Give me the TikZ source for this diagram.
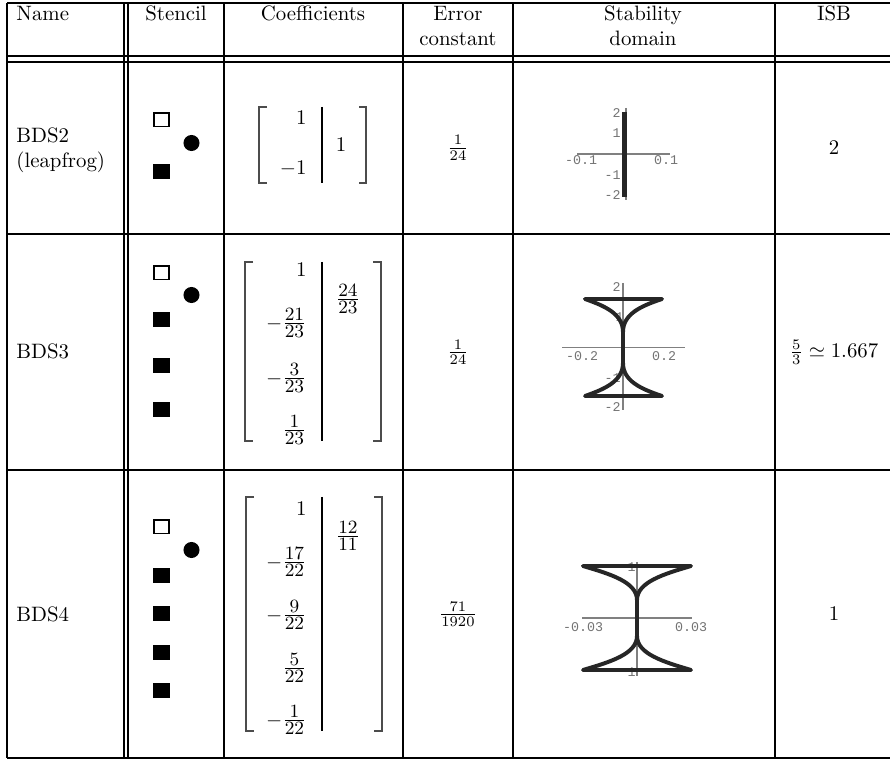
\documentclass[tikz,border=0pt]{standalone}
\usepackage{fontspec}
\newfontfamily\plotfont{Liberation Mono}
\DeclareMathSizes{9.99}{10}{9}{7}
\begin{document}
\begin{tikzpicture}[x=0.48pt,y=-0.48pt,
  rule/.style={line width=0.95pt},
  txt/.style={font=\fontsize{10}{12}\selectfont, inner sep=0pt},
  mtx/.style={font=\fontsize{9.99}{12}\selectfont, inner sep=0pt},
  tk/.style={font=\plotfont\fontsize{6.4}{7}\selectfont, text=black!55, inner sep=0pt},
  ax/.style={line width=0.5pt, draw=black!50},
  dom/.style={line width=1.9pt, line cap=round, line join=round, draw=black!85},
  brk/.style={line width=0.55pt, draw=black!70},
  vbar/.style={line width=0.95pt},
  opensq/.style={draw, line width=0.9pt, minimum width=7.3pt, minimum height=6.3pt, inner sep=0pt},
  fullsq/.style={fill, minimum width=8.2pt, minimum height=7.2pt, inner sep=0pt},
  fdot/.style={circle, fill, minimum size=7.7pt, inner sep=0pt}
]
\useasboundingbox (0,0) rectangle (890,760);
% rules
\foreach \y in {3,56,62,234,470,758} \draw[rule] (7,\y) -- (890,\y);
\foreach \x in {7,124.3,128.3,224,403,513,775} \draw[rule] (\x,3) -- (\x,758);
% header
\node[txt, anchor=base west] (hName) at (16,20.5) {Name};
\node[txt, anchor=base] (hSt) at (176,20.5) {Stencil};
\node[txt, anchor=base] (hCo) at (313,20.5) {Coefficients};
\node[txt, anchor=base] (hEr1) at (458,20.5) {Error};
\node[txt, anchor=base] (hEr2) at (458,45.5) {constant};
\node[txt, anchor=base] (hSd1) at (643,20.5) {Stability};
\node[txt, anchor=base] (hSd2) at (643,45.5) {domain};
\node[txt, anchor=base] (hIsb) at (834,20.5) {ISB};
% names
\node[txt, anchor=base west] (nm1a) at (16,143) {BDS2};
\node[txt, anchor=base west] (nm1b) at (16,168) {(leapfrog)};
\node[txt, anchor=base west] (nm2) at (16,359) {BDS3};
\node[txt, anchor=base west] (nm3) at (16,621) {BDS4};
% stencils
\node[opensq] (s1o) at (161.5,120) {};
\node[fdot] (s1d) at (191.5,143) {};
\node[fullsq] (s1a) at (161.5,172) {};
\node[opensq] (s2o) at (161.5,273) {};
\node[fdot] (s2d) at (191.5,295) {};
\node[fullsq] (s2a) at (161.5,320) {};
\node[fullsq] (s2b) at (161.5,366) {};
\node[fullsq] (s2c) at (161.5,410) {};
\node[opensq] (s3o) at (161.5,527) {};
\node[fdot] (s3d) at (191.5,550) {};
\node[fullsq] (s3a) at (161.5,576) {};
\node[fullsq] (s3b) at (161.5,614) {};
\node[fullsq] (s3c) at (161.5,652) {};
\node[fullsq] (s3e) at (161.5,690) {};
% matrix 1
\draw[brk] (267,107) -- (259,107) -- (259,183) -- (267,183);
\draw[brk] (359,107) -- (366,107) -- (366,183) -- (359,183);
\draw[vbar] (322,107) -- (322,183);
\node[mtx, anchor=east] (m1a) at (307,118) {$1$};
\node[mtx, anchor=east] (m1b) at (307,169) {$-1$};
\node[mtx] (m1r) at (341,145) {$1$};
% matrix 2
\draw[brk] (253,262) -- (245,262) -- (245,441) -- (253,441);
\draw[brk] (373,262) -- (381,262) -- (381,441) -- (373,441);
\draw[vbar] (322,262) -- (322,441);
\node[mtx, anchor=east] (m2a) at (307,270) {$1$};
\node[mtx, anchor=east] (m2b) at (307,323) {$-\frac{21}{23}$};
\node[mtx, anchor=east] (m2c) at (307,378) {$-\frac{3}{23}$};
\node[mtx, anchor=east] (m2d) at (307,430) {$\frac{1}{23}$};
\node[mtx] (m2r) at (348,299) {$\frac{24}{23}$};
% matrix 3
\draw[brk] (254,497) -- (246,497) -- (246,731) -- (254,731);
\draw[brk] (374,497) -- (382,497) -- (382,731) -- (374,731);
\draw[vbar] (322,497) -- (322,731);
\node[mtx, anchor=east] (m3a) at (307,509) {$1$};
\node[mtx, anchor=east] (m3b) at (307,562) {$-\frac{17}{22}$};
\node[mtx, anchor=east] (m3c) at (307,615) {$-\frac{9}{22}$};
\node[mtx, anchor=east] (m3d) at (307,668) {$\frac{5}{22}$};
\node[mtx, anchor=east] (m3e) at (307,720) {$-\frac{1}{22}$};
\node[mtx] (m3r) at (348,536) {$\frac{12}{11}$};
% error constants
\node[txt] (e1) at (458,148) {$\frac{1}{24}$};
\node[txt] (e2) at (458,352) {$\frac{1}{24}$};
\node[txt] (e3) at (458,614) {$\frac{71}{1920}$};
% ISB
\node[txt] (i1) at (834,148) {$2$};
\node[txt] (i2) at (834,352) {$\frac{5}{3}\simeq 1.667$};
\node[txt] (i3) at (834,614) {$1$};
% plot 1
\draw[ax] (577,154) -- (670,154);
\draw[ax] (626,108) -- (626,200);
\node[tk, anchor=east] (p1y1) at (621,113) {2};
\node[tk, anchor=east] (p1y2) at (621,133) {1};
\node[tk, anchor=east] (p1y3) at (621,175) {-1};
\node[tk, anchor=east] (p1y4) at (621,195) {-2};
\node[tk] (p1x1) at (581,160) {-0.1};
\node[tk] (p1x2) at (666,160) {0.1};
\draw[line width=2.4pt, draw=black!85] (624.5,112) -- (624.5,197);
% plot 2
\draw[ax] (562,347.5) -- (685,347.5);
\draw[ax] (623,283) -- (623,410);
\node[tk, anchor=east] (p2y1) at (621,287) {2};
\node[tk, anchor=east] (p2y2) at (624,317) {1};
\node[tk, anchor=east] (p2y3) at (621,378) {-1};
\node[tk, anchor=east] (p2y4) at (621,407) {-2};
\node[tk] (p2x1) at (582,356) {-0.2};
\node[tk] (p2x2) at (664,356) {0.2};
\draw[dom] (585,299) -- (662,299) .. controls (641,306) and (623,314) .. (623,332) -- (623,363) .. controls (623,381) and (641,389) .. (662,396) -- (585,396) .. controls (605,389) and (623,381) .. (623,363);
\draw[dom] (585,299) .. controls (605,306) and (623,314) .. (623,332);
% plot 3
\draw[ax] (582,618) -- (692,618);
\draw[ax] (637,562) -- (637,676);
\node[tk, anchor=east] (p3y1) at (636,567) {1};
\node[tk, anchor=east] (p3y2) at (636,672) {1};
\node[tk] (p3x1) at (583,627) {-0.03};
\node[tk] (p3x2) at (691,627) {0.03};
\draw[dom] (583,566) -- (691,566) .. controls (664,574) and (637,582) .. (637,600) -- (637,636) .. controls (637,654) and (664,662) .. (691,670) -- (583,670) .. controls (610,662) and (637,654) .. (637,636);
\draw[dom] (583,566) .. controls (610,574) and (637,582) .. (637,600);
\end{tikzpicture}
\end{document}
